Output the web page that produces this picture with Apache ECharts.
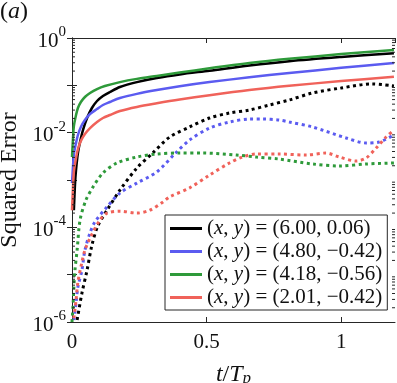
<!DOCTYPE html>
<html>
<head>
<meta charset="utf-8">
<script src="https://cdn.jsdelivr.net/npm/echarts@6/dist/echarts.min.js"></script>
<style>
  html, body { margin: 0; padding: 0; background: #fff; }
  #chart { width: 397px; height: 383px; }
</style>
</head>
<body>
<div id="chart"></div>
<script>
// t / T_p positions and squared error values
var blackSolidT = [0.007, 0.011, 0.015, 0.022, 0.030, 0.041, 0.056, 0.074, 0.093, 0.115, 0.141, 0.178, 0.241, 0.315, 0.400, 0.511, 0.659, 0.807, 1.0, 1.196];
var blackSolidErr = [2.3e-4, 7.8e-4, 1.63e-3, 3.72e-3, 6.35e-3, 0.0114, 0.0204, 0.0332, 0.0467, 0.0595, 0.0723, 0.0922, 0.117, 0.143, 0.170, 0.204, 0.263, 0.324, 0.398, 0.479];

var blueSolidT = [0, 0.004, 0.007, 0.015, 0.022, 0.033, 0.048, 0.067, 0.093, 0.115, 0.141, 0.178, 0.241, 0.315, 0.400, 0.511, 0.659, 0.807, 1.0, 1.196];
var blueSolidErr = [8.6e-4, 2.07e-3, 3.54e-3, 6.05e-3, 8.93e-3, 0.0132, 0.0185, 0.0248, 0.0316, 0.0384, 0.0445, 0.054, 0.066, 0.0794, 0.0955, 0.117, 0.148, 0.182, 0.234, 0.295];

var greenSolidT = [0, 0.004, 0.007, 0.015, 0.022, 0.033, 0.048, 0.067, 0.093, 0.122, 0.178, 0.241, 0.315, 0.400, 0.511, 0.659, 0.807, 1.0, 1.196];
var greenSolidErr = [3.06e-3, 8.1e-3, 0.0138, 0.0236, 0.0332, 0.0445, 0.0567, 0.0689, 0.0836, 0.0968, 0.117, 0.137, 0.158, 0.186, 0.229, 0.295, 0.363, 0.457, 0.556];

var redSolidT = [0, 0.004, 0.007, 0.015, 0.022, 0.033, 0.048, 0.067, 0.093, 0.115, 0.141, 0.178, 0.241, 0.315, 0.400, 0.511, 0.659, 0.807, 1.0, 1.196];
var redSolidErr = [2.3e-4, 7.8e-4, 1.48e-3, 2.92e-3, 4.5e-3, 6.7e-3, 9.37e-3, 0.0125, 0.0168, 0.0204, 0.0236, 0.0287, 0.035, 0.0417, 0.0501, 0.0617, 0.0794, 0.0977, 0.123, 0.151];

var blackDotT = [0.019, 0.037, 0.056, 0.074, 0.096, 0.130, 0.178, 0.241, 0.300, 0.363, 0.437, 0.511, 0.585, 0.659, 0.733, 0.807, 0.893, 1.0, 1.115, 1.196];
var blackDotErr = [1.1e-6, 4.1e-6, 1.25e-5, 4.2e-5, 1.07e-4, 2.3e-4, 6.1e-4, 1.79e-3, 3.72e-3, 8.1e-3, 0.0132, 0.0204, 0.026, 0.0301, 0.0384, 0.049, 0.0689, 0.0879, 0.107, 0.0968];

var blueDotT = [0.007, 0.015, 0.022, 0.037, 0.048, 0.067, 0.085, 0.130, 0.178, 0.241, 0.315, 0.385, 0.437, 0.511, 0.585, 0.659, 0.707, 0.770, 0.807, 0.893, 1.019, 1.093, 1.141, 1.196];
var blueDotErr = [1.1e-6, 2.5e-6, 5.5e-6, 1.25e-5, 3.3e-5, 7.6e-5, 1.3e-4, 2.7e-4, 5.3e-4, 8.6e-4, 1.48e-3, 3.72e-3, 7.0e-3, 0.0125, 0.0168, 0.0194, 0.0194, 0.0185, 0.0168, 0.0132, 7.71e-3, 6.05e-3, 6.35e-3, 8.93e-3];

var greenDotT = [0, 0.004, 0.007, 0.011, 0.019, 0.030, 0.052, 0.078, 0.115, 0.167, 0.241, 0.315, 0.400, 0.485, 0.611, 0.685, 0.770, 0.893, 0.993, 1.093, 1.196];
var greenDotErr = [1e-6, 2.3e-6, 5.5e-6, 1.25e-5, 3.3e-5, 1.43e-4, 3.8e-4, 7.1e-4, 1.41e-3, 2.29e-3, 3.06e-3, 3.54e-3, 3.72e-3, 3.72e-3, 3.37e-3, 3.06e-3, 2.77e-3, 2.18e-3, 1.98e-3, 2.18e-3, 2.29e-3];

var redDotT = [0.007, 0.015, 0.022, 0.037, 0.048, 0.067, 0.104, 0.130, 0.178, 0.241, 0.289, 0.337, 0.363, 0.437, 0.511, 0.585, 0.633, 0.685, 0.770, 0.870, 0.944, 0.993, 1.056, 1.093, 1.130, 1.167, 1.196];
var redDotErr = [1.2e-6, 2.9e-6, 7.0e-6, 1.85e-5, 3.3e-5, 5.9e-5, 1.43e-4, 2.0e-4, 2.2e-4, 2.0e-4, 2.3e-4, 3.4e-4, 4.4e-4, 6.8e-4, 1.27e-3, 2.29e-3, 3.06e-3, 3.54e-3, 3.54e-3, 3.37e-3, 3.72e-3, 3.06e-3, 2.52e-3, 2.92e-3, 4.74e-3, 8.1e-3, 0.0114];

var legendNames = ['(x, y) = (6.00, 0.06)', '(x, y) = (4.80, \u22120.42)', '(x, y) = (4.18, \u22120.56)', '(x, y) = (2.01, \u22120.42)'];
var xTicks = [0, 0.5, 1];
var yLabelExps = [0, -2, -4, -6];

var colBlack = '#000000';
var colBlue = '#5b5bf0';
var colGreen = '#2e9a3a';
var colRed = '#f0625a';
var axisCol = '#262626';
var serif = 'Liberation Serif';

function zip(t, v) {
  return t.map(function (x, i) { return [x, v[i]]; });
}

// log minor tick positions (2..9 x 10^k)
var minorTicks = [];
for (var k = -6; k < 0; k++) {
  for (var m = 2; m <= 9; m++) minorTicks.push([0, m * Math.pow(10, k)]);
}

var chart = echarts.init(document.getElementById('chart'));

function solid(name, t, v, col) {
  return {
    name: name, type: 'line', data: zip(t, v),
    symbol: 'none', showSymbol: false, smooth: 0.3,
    lineStyle: { color: col, width: 2.5 }, itemStyle: { color: col }, z: 3
  };
}
function dotted(name, t, v, col) {
  return {
    name: name, type: 'line', data: zip(t, v),
    symbol: 'none', showSymbol: false, smooth: 0.3,
    lineStyle: { color: col, width: 3, type: [3, 3.5] }, itemStyle: { color: col }, z: 2
  };
}

var rich = {
  n: { fontFamily: serif, fontSize: 21, color: '#111' },
  i: { fontFamily: serif, fontSize: 21, fontStyle: 'italic', color: '#111' }
};

var option = {
  animation: false,
  title: {
    text: '{n|(}{i|a}{n|)}',
    left: 0, top: 0, padding: 0,
    textStyle: {
      fontWeight: 'normal',
      rich: {
        n: { fontFamily: serif, fontSize: 24, fontWeight: 'normal', color: '#111' },
        i: { fontFamily: serif, fontSize: 24, fontWeight: 'normal', fontStyle: 'italic', color: '#111' }
      }
    }
  },
  grid: { left: 72, right: 2, top: 38, bottom: 61, outerBoundsMode: 'none' },
  legend: {
    data: legendNames,
    orient: 'vertical',
    left: 165, top: 215,
    padding: [2, 5, 1, 5],
    icon: 'rect',
    itemGap: 0, itemWidth: 32, itemHeight: 3,
    backgroundColor: '#fff', borderColor: axisCol, borderWidth: 1,
    textStyle: { lineHeight: 23, rich: rich },
    formatter: function (name) {
      return '{n|(}{i|x}{n|, }{i|y}{n|' + name.slice(5) + '}';
    }
  },
  xAxis: [{
    type: 'value', min: 0, max: 1.2, interval: 0.5,
    name: '{i|t}{n|/}{i|T}{s|p}', nameLocation: 'middle', nameGap: 40,
    nameTextStyle: {
      rich: {
        n: { fontFamily: serif, fontSize: 24, color: '#111' },
        i: { fontFamily: serif, fontSize: 24, fontStyle: 'italic', color: '#111' },
        s: { fontFamily: serif, fontSize: 17, fontStyle: 'italic', color: '#111', verticalAlign: 'bottom', padding: [8, 0, 0, 0] }
      }
    },
    axisLine: { show: true, lineStyle: { color: axisCol, width: 1 } },
    axisTick: { show: true, inside: true, length: 5, lineStyle: { color: axisCol } },
    splitLine: { show: false },
    axisLabel: {
      margin: 10, fontFamily: serif, fontSize: 21, color: '#111', showMaxLabel: false,
      formatter: function (v) { return xTicks.indexOf(v) >= 0 ? String(v) : ''; }
    }
  }, {
    type: 'value', min: 0, max: 1.2, interval: 0.5, position: 'top',
    axisLine: { show: true, lineStyle: { color: axisCol, width: 1 } },
    axisTick: { show: true, inside: true, length: 5, lineStyle: { color: axisCol } },
    axisLabel: { show: false }, splitLine: { show: false }
  }],
  yAxis: [{
    type: 'log', logBase: 10, min: 1e-6, max: 1, interval: 1,
    name: 'Squared Error', nameLocation: 'middle', nameGap: 46, nameRotate: 90,
    nameTextStyle: { fontFamily: serif, fontSize: 24, color: '#111' },
    axisLine: { show: true, lineStyle: { color: axisCol, width: 1 } },
    axisTick: { show: true, inside: true, length: 5, lineStyle: { color: axisCol } },
    splitLine: { show: false },
    axisLabel: {
      margin: 6,
      formatter: function (v) {
        var e = Math.round(Math.log10(v));
        if (yLabelExps.indexOf(e) < 0) return '';
        return '{b|10}{s|' + (e === 0 ? '0' : '-' + (-e)) + '}';
      },
      rich: {
        b: { fontFamily: serif, fontSize: 21, color: '#111', verticalAlign: 'bottom', lineHeight: 27 },
        s: { fontFamily: serif, fontSize: 15, color: '#111', verticalAlign: 'top', lineHeight: 15 }
      }
    }
  }, {
    type: 'log', logBase: 10, min: 1e-6, max: 1, interval: 1, position: 'right',
    axisLine: { show: true, lineStyle: { color: axisCol, width: 1 } },
    axisTick: { show: true, inside: true, length: 5, lineStyle: { color: axisCol } },
    axisLabel: { show: false }, splitLine: { show: false }
  }],
  series: [
    dotted('dot-black', blackDotT, blackDotErr, colBlack),
    dotted('dot-blue', blueDotT, blueDotErr, colBlue),
    dotted('dot-green', greenDotT, greenDotErr, colGreen),
    dotted('dot-red', redDotT, redDotErr, colRed),
    solid(legendNames[0], blackSolidT, blackSolidErr, colBlack),
    solid(legendNames[1], blueSolidT, blueSolidErr, colBlue),
    solid(legendNames[2], greenSolidT, greenSolidErr, colGreen),
    solid(legendNames[3], redSolidT, redSolidErr, colRed),
    {
      type: 'custom', silent: true, clip: false, z: 5,
      data: minorTicks,
      encode: { x: 0, y: 1 },
      renderItem: function (params, api) {
        var v = api.value(1);
        var pl = api.coord([0, v]);
        var pr = api.coord([1.2, v]);
        var st = { stroke: axisCol, lineWidth: 1 };
        return {
          type: 'group', children: [
            { type: 'line', shape: { x1: pl[0], y1: pl[1], x2: pl[0] + 3, y2: pl[1] }, style: st },
            { type: 'line', shape: { x1: pr[0] - 3, y1: pr[1], x2: pr[0], y2: pr[1] }, style: st }
          ]
        };
      }
    }
  ]
};

chart.setOption(option);
</script>
</body>
</html>
